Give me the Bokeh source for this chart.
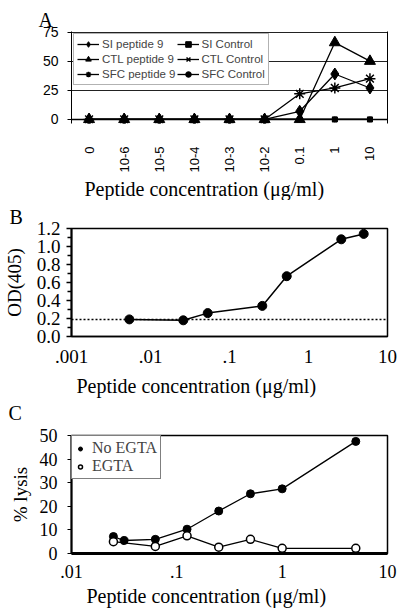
import math
from bokeh.plotting import figure
from bokeh.models import (FactorRange, Range1d, FixedTicker, Legend, LegendItem, Span, Title,
                          CustomJSTickFormatter, NumeralTickFormatter, LinearAxis)
from bokeh.layouts import column
from bokeh.embed import file_html
from bokeh.resources import INLINE

SANS = "Liberation Sans"
SERIF = "Liberation Serif"

# ---------------- Panel A data ----------------
conc_a = ["0", "10-6", "10-5", "10-4", "10-3", "10-2", "0.1", "1", "10"]
si_pep9 = [0, 0, 0, 0, 0, 0, 7, 39, 27]
ctl_pep9 = [0, 0, 0, 0, 0, 0, 0, 66, 50]
sfc_pep9 = [0, 0, 0, 0, 0, 0, 22, 27, 35]
si_ctrl = [0, 0, 0, 0, 0, 0, 0, 0, 0]
ctl_ctrl = [0, 0, 0, 0, 0, 0, 0, 0, 0]
sfc_ctrl = [0, 0, 0, 0, 0, 0, 0, 0, 0]
a_yticks = [0, 25, 50, 75]
a_grid = [25, 50, 75]

# ---------------- Panel B data ----------------
conc_b = [0.0054, 0.026, 0.053, 0.26, 0.53, 2.6, 5.0]
od405 = [0.19, 0.18, 0.26, 0.34, 0.67, 1.08, 1.14]
od_background = 0.19
b_xticks = [0.001, 0.01, 0.1, 1, 10]
b_yticks = [0.0, 0.2, 0.4, 0.6, 0.8, 1.0, 1.2]
b_yminor = [0.1, 0.3, 0.5, 0.7, 0.9, 1.1]

# ---------------- Panel C data ----------------
conc_no_egta = [0.025, 0.0316, 0.0625, 0.125, 0.25, 0.5, 1.0, 5.0]
lysis_no_egta = [7.2, 5.5, 6.0, 10.3, 18.0, 25.3, 27.4, 47.5]
conc_egta = [0.025, 0.0625, 0.125, 0.25, 0.5, 1.0, 5.0]
lysis_egta = [5.0, 3.0, 7.5, 2.7, 6.0, 2.2, 2.2]
c_xticks = [0.01, 0.1, 1, 10]
c_yticks = [0, 10, 20, 30, 40, 50]

XLABEL = "Peptide concentration (\u03bcg/ml)"

log_fmt = CustomJSTickFormatter(code="return tick >= 1 ? tick.toFixed(0) : String(tick).replace(/^0\\./, '.');")


def letter_title(letter, offset, standoff):
    return Title(text=letter, align="left", offset=offset, standoff=standoff,
                 text_font=SERIF, text_font_size="20px", text_font_style="normal",
                 text_color="black")


def xlabel_title(offset, standoff):
    return Title(text=XLABEL, align="left", offset=offset, standoff=standoff,
                 text_font=SERIF, text_font_size="20px", text_font_style="normal",
                 text_color="black")


# ================= Panel A =================
pA = figure(width=400, height=200, x_range=FactorRange(factors=conc_a), y_range=Range1d(-3.5, 75.5),
            output_backend="svg", toolbar_location=None, title=letter_title("A", -33, 2),
            min_border_left=41, min_border_right=9, min_border_top=31, min_border_bottom=72)
pA.outline_line_color = None
pA.xgrid.grid_line_color = None
pA.ygrid.ticker = FixedTicker(ticks=a_grid)
pA.ygrid.grid_line_color = "#222222"
pA.ygrid.grid_line_width = 1

pA.yaxis.ticker = FixedTicker(ticks=a_yticks)
pA.yaxis.major_label_text_font = SANS
pA.yaxis.major_label_text_font_size = "14px"
pA.yaxis.major_label_text_color = "black"
pA.yaxis.minor_tick_line_color = None
pA.yaxis.major_tick_out = 4
pA.yaxis.major_tick_in = 0
pA.yaxis.major_label_standoff = 9
pA.yaxis.axis_line_color = "black"

pA.xaxis.major_label_orientation = math.pi / 2
pA.xaxis.major_label_text_font = SANS
pA.xaxis.major_label_text_font_size = "13px"
pA.xaxis.major_label_text_color = "black"
pA.xaxis.major_tick_line_color = None
pA.xaxis.major_label_standoff = 17
pA.xaxis.axis_line_color = None

pA.add_layout(LinearAxis(ticker=FixedTicker(ticks=[]), major_tick_line_color=None,
                         minor_tick_line_color=None, axis_line_color="black"), "right")
pA.add_layout(Span(location=0, dimension="width", line_color="black", line_width=1.5))

series = [
    ("SI peptide 9", si_pep9, "diamond", 12, 1),
    ("CTL peptide 9", ctl_pep9, "triangle", 11, 1),
    ("SFC peptide 9", sfc_pep9, "asterisk", 11, 1.5),
    ("SI Control", si_ctrl, "square", 5, 1),
    ("CTL Control", ctl_ctrl, "x", 7, 1.5),
    ("SFC Control", sfc_ctrl, "circle", 5, 1),
]
order = [3, 4, 5, 0, 1, 2]
renderers = {}
for i in order:
    name, vals, mk, sz, lw = series[i]
    ln = pA.line(conc_a, vals, line_color="black", line_width=1.3)
    sc = pA.scatter(conc_a, vals, marker=mk, size=sz, fill_color="black",
                    line_color="black", line_width=lw)
    renderers[name] = [ln, sc]

legA = Legend(items=[LegendItem(label=s[0], renderers=renderers[s[0]]) for s in series],
              location="top_left", orientation="vertical", nrows=3,
              label_text_font=SANS, label_text_font_size="11.5px",
              glyph_width=22, glyph_height=14, label_height=14, label_standoff=3,
              spacing=1, padding=3, margin=2,
              border_line_color="#666666", border_line_width=1.5,
              background_fill_color="white", background_fill_alpha=1)
pA.add_layout(legA)
pA.add_layout(xlabel_title(13, 1), "below")

# ================= Panel B =================
pB = figure(width=400, height=224, x_axis_type="log", x_range=Range1d(0.001, 10), y_range=Range1d(0, 1.2),
            output_backend="svg", toolbar_location=None, title=letter_title("B", -62, 1),
            min_border_left=70, min_border_right=13, min_border_top=28, min_border_bottom=88)
pB.outline_line_color = "black"
pB.outline_line_width = 1.5
pB.grid.grid_line_color = None

pB.xaxis.ticker = FixedTicker(ticks=b_xticks)
pB.xaxis.formatter = log_fmt
pB.xaxis.major_tick_line_color = None
pB.xaxis.minor_tick_line_color = None
pB.xaxis.major_label_text_font = SERIF
pB.xaxis.major_label_text_font_size = "19px"
pB.xaxis.major_label_text_color = "black"
pB.xaxis.major_label_standoff = 7
pB.xaxis.axis_line_width = 1.5

pB.yaxis.ticker = FixedTicker(ticks=b_yticks, minor_ticks=b_yminor)
pB.yaxis.formatter = NumeralTickFormatter(format="0.0")
pB.yaxis.major_tick_out = 5
pB.yaxis.major_tick_in = 0
pB.yaxis.minor_tick_out = 4
pB.yaxis.minor_tick_in = 0
pB.yaxis.major_tick_line_width = 1.5
pB.yaxis.minor_tick_line_width = 1.5
pB.yaxis.axis_line_width = 2
pB.yaxis.major_label_text_font = SERIF
pB.yaxis.major_label_text_font_size = "19px"
pB.yaxis.major_label_text_color = "black"
pB.yaxis.major_label_standoff = 6
pB.yaxis.axis_label = "OD(405)"
pB.yaxis.axis_label_text_font = SERIF
pB.yaxis.axis_label_text_font_style = "normal"
pB.yaxis.axis_label_text_font_size = "19px"
pB.yaxis.axis_label_text_color = "black"
pB.yaxis.axis_label_standoff = 9

pB.add_layout(Span(location=od_background, dimension="width", line_color="black",
                   line_dash="2 2", line_width=1.5))
pB.line(conc_b, od405, line_color="black", line_width=1.5)
pB.scatter(conc_b, od405, marker="circle", size=9, fill_color="black", line_color="black")
pB.add_layout(xlabel_title(5, 15), "below")
pB.add_layout(letter_title("C", -63, -10), "below")

# ================= Panel C =================
pC = figure(width=400, height=188, x_axis_type="log", x_range=Range1d(0.01, 10), y_range=Range1d(0, 50),
            output_backend="svg", toolbar_location=None,
            min_border_left=63, min_border_right=11, min_border_top=11, min_border_bottom=59)
pC.title.text = ""
pC.outline_line_color = "black"
pC.outline_line_width = 1.5
pC.grid.grid_line_color = None

pC.xaxis.ticker = FixedTicker(ticks=c_xticks)
pC.xaxis.formatter = log_fmt
pC.xaxis.major_tick_line_color = None
pC.xaxis.minor_tick_line_color = None
pC.xaxis.major_label_text_font = SERIF
pC.xaxis.major_label_text_font_size = "18px"
pC.xaxis.major_label_text_color = "black"
pC.xaxis.major_label_standoff = 5
pC.xaxis.axis_line_width = 3

pC.yaxis.ticker = FixedTicker(ticks=c_yticks)
pC.yaxis.major_tick_out = 4
pC.yaxis.major_tick_in = 0
pC.yaxis.minor_tick_line_color = None
pC.yaxis.axis_line_width = 2
pC.yaxis.major_label_text_font = SERIF
pC.yaxis.major_label_text_font_size = "18px"
pC.yaxis.major_label_text_color = "black"
pC.yaxis.major_label_standoff = 10
pC.yaxis.axis_label = "% lysis"
pC.yaxis.axis_label_text_font = SERIF
pC.yaxis.axis_label_text_font_style = "normal"
pC.yaxis.axis_label_text_font_size = "19px"
pC.yaxis.axis_label_text_color = "black"
pC.yaxis.axis_label_standoff = 6

pC.line(conc_no_egta, lysis_no_egta, line_color="black", line_width=1.3)
pC.line(conc_egta, lysis_egta, line_color="black", line_width=1.3)
sc_no = pC.scatter(conc_no_egta, lysis_no_egta, marker="circle", size=8,
                   fill_color="black", line_color="black")
sc_eg = pC.scatter(conc_egta, lysis_egta, marker="circle", size=8,
                   fill_color="white", line_color="black", line_width=1.5)

legC = Legend(items=[LegendItem(label="No EGTA", renderers=[sc_no]),
                     LegendItem(label="EGTA", renderers=[sc_eg])],
              location="top_left", orientation="vertical",
              label_text_font=SERIF, label_text_font_size="16px",
              glyph_width=10, glyph_height=15, label_height=15, label_standoff=7,
              spacing=0, padding=3, margin=0,
              border_line_color="black", border_line_width=1.5,
              background_fill_color="white", background_fill_alpha=1)
pC.add_layout(legC)
pC.add_layout(xlabel_title(15, 4), "below")

layout = column(pA, pB, pC, spacing=0)
open("out.html", "w").write(file_html(layout, INLINE))
